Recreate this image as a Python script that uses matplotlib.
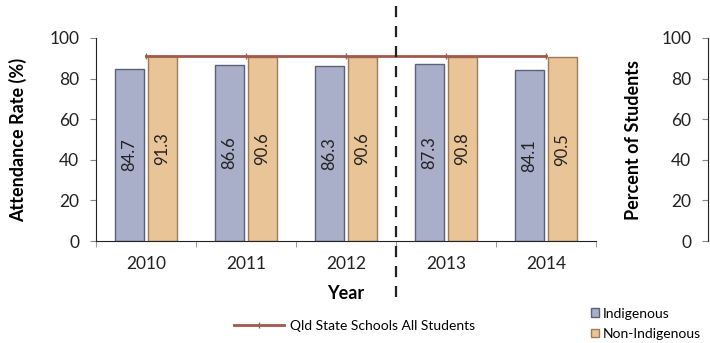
import matplotlib
matplotlib.use("Agg")
import matplotlib.pyplot as plt
from matplotlib.lines import Line2D
from matplotlib.patches import Patch
import numpy as np

plt.rcParams['font.family'] = ['Lato', 'DejaVu Sans']

years = ['2010', '2011', '2012', '2013', '2014']
indigenous = [84.7, 86.6, 86.3, 87.3, 84.1]
non_indigenous = [91.3, 90.6, 90.6, 90.8, 90.5]
qld_all = [91.0, 91.0, 91.0, 91.0, 91.0]

ind_color, ind_edge = '#a9aec9', '#5b607c'
non_color, non_edge = '#e8c497', '#9c7b58'
line_color = '#a2584c'

fig = plt.figure(figsize=(7.1, 3.43), dpi=100)
ax = fig.add_axes([96 / 710, 102 / 343, 500 / 710, 203 / 343])

x = np.arange(len(years))
w = 0.29
ax.bar(x - 0.165, indigenous, w, color=ind_color, edgecolor=ind_edge, linewidth=1)
ax.bar(x + 0.165, non_indigenous, w, color=non_color, edgecolor=non_edge, linewidth=1)
ax.plot(x, qld_all, color=line_color, lw=2, marker='|', markersize=5, zorder=3)

for xi, v in zip(x, indigenous):
    ax.text(xi - 0.165, v / 2, f'{v:.1f}', rotation=90, ha='center', va='center',
            fontsize=12, color='#222222')
for xi, v in zip(x, non_indigenous):
    ax.text(xi + 0.165, v / 2, f'{v:.1f}', rotation=90, ha='center', va='center',
            fontsize=12, color='#222222')

ax.set_xlim(-0.5, len(years) - 0.5)
ax.set_ylim(0, 100)
ax.set_yticks([0, 20, 40, 60, 80, 100])
ax.set_xticks(x)
ax.set_xticklabels(years)
ax.set_xticks(np.arange(len(years) + 1) - 0.5, minor=True)
ax.tick_params(axis='x', which='major', length=0, labelsize=12.5, pad=11, labelcolor='#222222')
ax.tick_params(axis='x', which='minor', length=4, color='#888888')
ax.tick_params(axis='y', labelsize=12.5, length=4, pad=8, color='#888888', labelcolor='#222222')
ax.spines['top'].set_visible(False)
ax.spines['right'].set_visible(False)
ax.spines['left'].set_color('#222222')
ax.spines['bottom'].set_color('#222222')
ax.set_ylabel('Attendance Rate (%)', fontsize=13, fontweight='bold', labelpad=16)
ax.set_xlabel('Year', fontsize=13, fontweight='bold', labelpad=9)

# separator between 2012 and 2013
sep_x = 396 / 710
fig.add_artist(Line2D([sep_x, sep_x], [1 - 6 / 343, 1 - 297 / 343], transform=fig.transFigure,
                      color='#222222', lw=1.6, linestyle=(0, (5, 4))))

# right-hand axis
ax2 = fig.add_axes([708 / 710, 102 / 343, 0.001, 203 / 343])
ax2.set_ylim(0, 100)
ax2.set_yticks([0, 20, 40, 60, 80, 100])
ax2.set_xticks([])
for s in ['top', 'right', 'bottom']:
    ax2.spines[s].set_visible(False)
ax2.spines['left'].set_color('#222222')
ax2.tick_params(axis='y', labelsize=12.5, length=4, pad=8, color='#888888', labelcolor='#222222')
ax2.set_ylabel('Percent of Students', fontsize=13, fontweight='bold', labelpad=14)

fig.legend(handles=[Line2D([], [], color=line_color, lw=2, marker='|', markersize=4)],
           labels=['Qld State Schools All Students'], loc='center left',
           bbox_to_anchor=(228 / 710, 1 - 326 / 343), frameon=False, fontsize=10,
           handlelength=3.6, handletextpad=0.5, borderaxespad=0)
fig.legend(handles=[Patch(facecolor=ind_color, edgecolor=ind_edge),
                    Patch(facecolor=non_color, edgecolor=non_edge)],
           labels=['Indigenous', 'Non-Indigenous'], loc='upper left',
           bbox_to_anchor=(585 / 710, 1 - 302 / 343), frameon=False, fontsize=10,
           handlelength=0.6, handleheight=0.6, handletextpad=0.3, labelspacing=0.6,
           borderaxespad=0)

fig.savefig('out.png', dpi=100)
